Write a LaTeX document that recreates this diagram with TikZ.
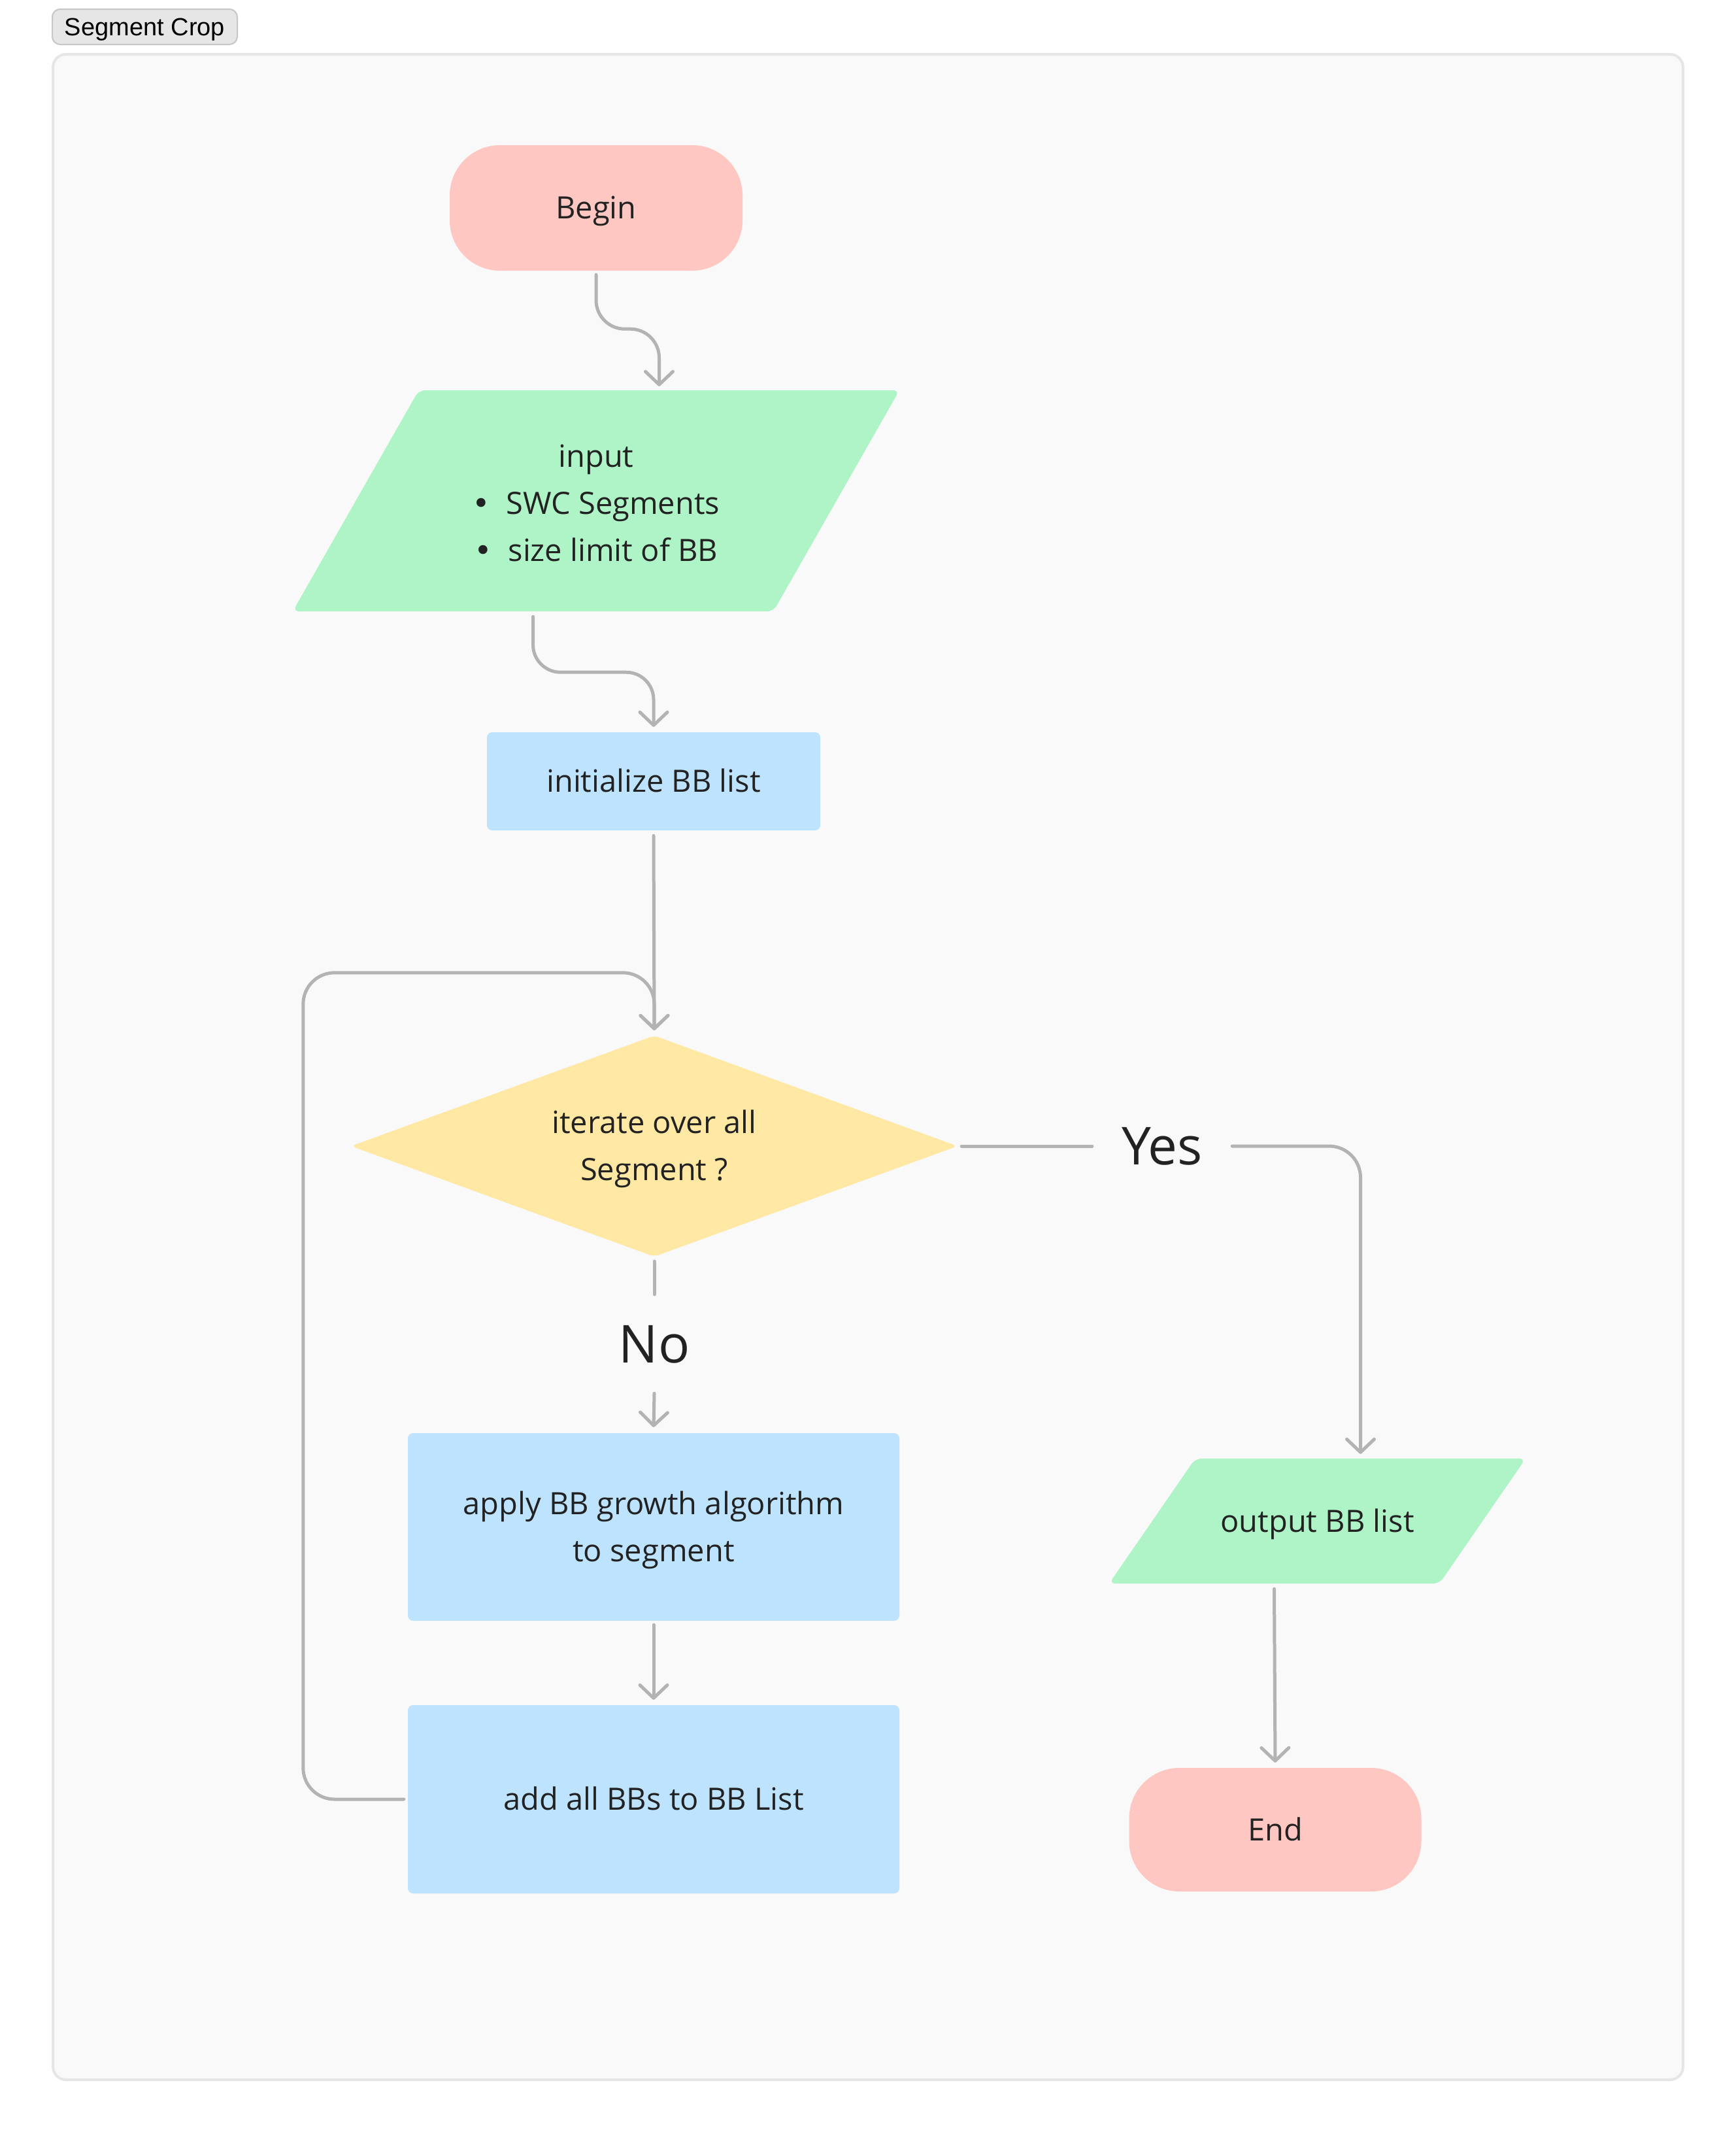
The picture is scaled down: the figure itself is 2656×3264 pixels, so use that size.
\documentclass[tikz,border=0pt]{standalone}
\usepackage{fontspec}
\setmainfont{Open Sans}
\newfontfamily\tagfont{Liberation Sans}
\newfontfamily\bulletfont{DejaVu Sans}
\usetikzlibrary{shapes.geometric,arrows.meta,calc}
\pgfdeclarelayer{background}
\pgfsetlayers{background,main}

\definecolor{panelfill}{HTML}{F9F9F9}
\definecolor{panelline}{HTML}{E6E6E6}
\definecolor{tagfill}{HTML}{E6E6E6}
\definecolor{tagline}{HTML}{C6C6C6}
\definecolor{termfill}{HTML}{FFC7C2}
\definecolor{iofill}{HTML}{AFF4C6}
\definecolor{procfill}{HTML}{BDE3FF}
\definecolor{decfill}{HTML}{FFE8A3}
\definecolor{linkgray}{HTML}{B3B3B3}
\definecolor{ink}{HTML}{222222}

% stacked lines whose baseline is the last line
\newcommand{\lines}[1]{\begin{tabular}[b]{@{}c@{}}#1\end{tabular}}
% list item mark
\newcommand{\itemdot}{{\bulletfont •}\hspace{24pt}}

\begin{document}
\begin{tikzpicture}[x=1pt,y=-1pt,
  every node/.style={font=\fontsize{47}{72}\selectfont, text=ink, inner sep=0pt,
    text height=33.6pt, text depth=0pt},
  twolines/.style={text height=105.6pt, text depth=0pt},
  threelines/.style={text height=185pt, text depth=0pt},
  tagbox/.style={fill=tagfill, draw=tagline, line width=2pt, rounded corners=12pt,
    minimum width=283pt, minimum height=54pt, text=black,
    text height=27pt, text depth=0pt,
    font=\tagfont\fontsize{38}{40}\selectfont},
  terminal/.style={fill=termfill, rounded corners=77pt, minimum width=448pt, minimum height=192pt},
  process/.style={fill=procfill, rounded corners=8pt},
  iobox/.style={rectangle},
  iofillstyle/.style={fill=iofill, rounded corners=10pt},
  decision/.style={diamond, fill=decfill, rounded corners=8pt, aspect=2.75,
    minimum width=928pt, minimum height=338pt},
  branchlabel/.style={font=\fontsize{80}{90}\selectfont, text=ink, text height=57pt, text depth=0pt},
  link/.style={draw=linkgray, line width=5pt, line cap=round, line join=round},
  arrowlink/.style={link, -{Straight Barb[round, length=20pt, width=42pt]}}
]
\useasboundingbox (0,0) rectangle (2656,3264);

% flow chart nodes
\node[terminal] (begin) at (912,318) {Begin};
\node[iobox, threelines, minimum width=928pt, minimum height=338pt] (input) at (912,766)
  {\lines{input\\ \itemdot SWC Segments\\ \itemdot size limit of BB}};
\node[process, minimum width=510pt, minimum height=150pt] (init) at (1000,1195) {initialize BB list};
\node[decision, twolines] (dec) at (1001,1753) {\lines{iterate over all\\ Segment ?}};
\node[process, twolines, minimum width=752pt, minimum height=287pt] (apply) at (1000,2335.5)
  {\lines{apply BB growth algorithm\\ to segment}};
\node[process, minimum width=752pt, minimum height=288pt] (add) at (1000,2752) {add all BBs to BB List};
\node[iobox, minimum width=637pt, minimum height=191pt] (output) at (2015.5,2326.5) {output BB list};
\node[terminal, minimum width=447pt, minimum height=189pt] (end) at (1951,2798.5) {End};

% branch labels
\node[branchlabel, minimum width=214pt] (yes) at (1778,1753) {Yes};
\node[branchlabel, minimum height=151pt] (no) at (1001,2055.5) {No};

% page, section frame and the slanted data boxes
\begin{pgfonlayer}{background}
  \fill[white] (0,0) rectangle (2656,3264);
  \draw[fill=panelfill, draw=panelline, line width=4pt, rounded corners=20pt]
    (81,83) rectangle (2575,3181);
  \fill[iofillstyle] (input.south west) -- ($(input.north west)+(193,0)$)
    -- (input.north east) -- ($(input.south east)+(-193,0)$) -- cycle;
  \fill[iofillstyle] (output.south west) -- ($(output.north west)+(132,0)$)
    -- (output.north east) -- ($(output.south east)+(-132,0)$) -- cycle;
\end{pgfonlayer}
\node[tagbox] (tag) at (221.5,41) {Segment Crop};

% middles of the top and bottom sides of the slanted boxes
\coordinate (input-top) at ($(input.north)+(96.5,0)$);
\coordinate (input-bottom) at ($(input.south)+(-96.5,0)$);
\coordinate (output-top) at ($(output.north)+(66,0)$);
\coordinate (output-bottom) at ($(output.south)+(-66,0)$);

% connectors
\draw[arrowlink, rounded corners=44pt] ([yshift=-6pt]begin.south) -- ++(0,83)
  -| ([yshift=6pt]input-top);
\draw[arrowlink, rounded corners=42pt] ([yshift=-8pt]input-bottom) -- ++(0,85)
  -| ([yshift=8pt]init.north);
\draw[arrowlink] ([yshift=-8pt]init.south) -- ([yshift=8pt]dec.north);
\draw[arrowlink, rounded corners=48pt] ([xshift=-6pt]add.west) -- ++(-154,0)
  |- ([yshift=96pt]dec.north) -- ([yshift=8pt]dec.north);
\draw[link] ([xshift=6pt]dec.east) -- (yes.west);
\draw[arrowlink, rounded corners=48pt] (yes.east) -| ([yshift=7pt]output-top);
\draw[link] ([yshift=-7pt]dec.south) -- (no.north);
\draw[arrowlink] (no.south) -- ([yshift=9pt]apply.north);
\draw[arrowlink] ([yshift=-6pt]apply.south) -- ([yshift=8pt]add.north);
\draw[arrowlink] ([yshift=-8pt]output-bottom) -- ([yshift=8pt]end.north);
\end{tikzpicture}
\end{document}
